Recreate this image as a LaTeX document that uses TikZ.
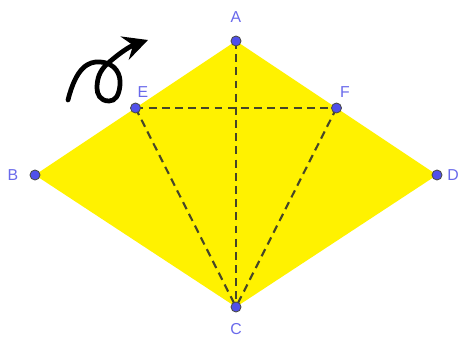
\documentclass[tikz,border=0pt]{standalone}
\usepackage{fontspec}
\setmainfont{Liberation Sans}
\usetikzlibrary{arrows.meta,calc}
\definecolor{ptblue}{RGB}{80,80,235}
\definecolor{lblblue}{RGB}{105,105,235}
\definecolor{dashgray}{RGB}{70,70,40}
\tikzset{
	dot/.style={circle,fill=ptblue,draw=black!70,line width=0.5pt,inner sep=0pt,minimum size=0.2cm},
	lbl/.style={text=lblblue,font=\small},
	dline/.style={dashgray,line width=1.2pt,dash pattern=on 4.5pt off 3pt}
}
\begin{document}
\begin{tikzpicture}[x=0.2cm,y=0.2cm]
			\useasboundingbox (0,0) rectangle (45.8,33.8);
			\coordinate (A) at (23.6,29.7);
			\coordinate (B) at (3.5,16.3);
			\coordinate (C) at (23.6,3.1);
			\coordinate (D) at (43.7,16.3);
			\coordinate (E) at ($ (A)!0.5!(B) $);
			\coordinate (F) at ($ (A)!0.5!(D) $);
			
			\fill[yellow] (A)--(B)--(C)--(D)--cycle;
			
			\draw[dline] (A)--(C);
			\draw[dline] (E)--(F);
			\draw[dline] (E)--(C);
			\draw[dline] (F)--(C);
			
			\foreach \p in {A,B,C,D,E,F}
				\node[dot] (\p dot) at (\p) {};
			
			\node[lbl] (Al) at (23.6,32.1) {A};
			\node[lbl] (Bl) at (1.3,16.3) {B};
			\node[lbl] (Cl) at (23.6,0.9) {C};
			\node[lbl] (Dl) at (45.3,16.3) {D};
			\node[lbl] (El) at (14.3,24.6) {E};
			\node[lbl] (Fl) at (34.5,24.6) {F};
			
			% curly arrow
			\coordinate (s) at (6.8,23.8);
			\coordinate (t) at (14.8,29.8);
			\draw[line width=2.7pt,line cap=round,-{Stealth[length=14pt,width=14pt,inset=5pt]}]
				(s) .. controls (7.6,27.0) and (8.8,27.7) .. (10.0,27.6)
				.. controls (11.6,27.5) and (12.1,26.3) .. (12.0,25.3)
				.. controls (11.9,24.2) and (11.5,23.7) .. (10.9,23.7)
				.. controls (10.0,23.7) and (9.7,24.4) .. (9.7,25.0)
				.. controls (9.7,26.0) and (10.0,26.7) .. (10.6,27.3)
				.. controls (11.6,28.2) and (12.8,29.1) .. (t);
\end{tikzpicture}
\end{document}
